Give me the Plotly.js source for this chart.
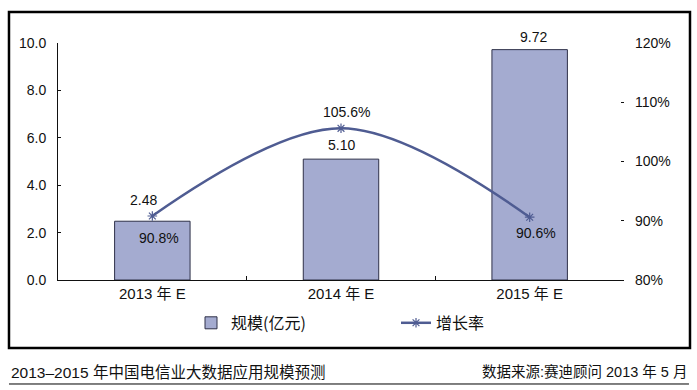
<!DOCTYPE html>
<html><head><meta charset="utf-8">
<script src="https://cdn.plot.ly/plotly-3.0.1.min.js"></script>
<style>html,body{margin:0;padding:0;background:#fff;}#c{width:697px;height:390px;}</style>
</head><body><div id="c"></div>
<script>
const categories = ["2013 年 E", "2014 年 E", "2015 年 E"];
const scale = [2.48, 5.10, 9.72];
const growth = [0.908, 1.056, 0.906];
const scaleLabels = ["2.48", "5.10", "9.72"];
const growthLabels = ["90.8%", "105.6%", "90.6%"];
const leftTicks = [0, 2, 4, 6, 8, 10];
const rightTicks = [0.8, 0.9, 1.0, 1.1, 1.2];

const FONT = "Liberation Sans, Arial, Noto Sans CJK SC, sans-serif";
const CJK = "Noto Sans CJK SC, Liberation Sans, sans-serif";

// label offsets (style only)
const barShiftY = [21, 14, 13], barShiftX = [-9, 0, 4];
const lineShiftY = [-22, 16, -16], lineShiftX = [7, 5, 6];

const traces = [
  {type: 'bar', x: categories, y: scale, name: '规模(亿元)',
   marker: {color: '#a4abd0', line: {color: '#2e3048', width: 1}},
   width: 0.4, hoverinfo: 'skip'},
  {type: 'scatter', mode: 'lines+markers', x: categories, y: growth, yaxis: 'y2', name: '增长率',
   line: {color: '#4f5c92', width: 2.5, shape: 'spline'},
   marker: {symbol: 'asterisk-open', size: 8, color: '#4f5c92', line: {color: '#4f5c92', width: 1.2}},
   hoverinfo: 'skip'}
];

const annotations = [];
categories.forEach((c, i) => {
  annotations.push({x: c, y: scale[i], xref: 'x', yref: 'y', text: scaleLabels[i], showarrow: false,
    yshift: barShiftY[i], xshift: barShiftX[i], font: {family: FONT, size: 14, color: '#111'}});
  annotations.push({x: c, y: growth[i], xref: 'x', yref: 'y2', text: growthLabels[i], showarrow: false,
    yshift: lineShiftY[i], xshift: lineShiftX[i], font: {family: FONT, size: 14, color: '#111'}});
});
annotations.push({xref: 'paper', yref: 'paper', x: -0.0866, y: -0.388, xanchor: 'left', yanchor: 'middle',
  text: '2013–2015 年中国电信业大数据应用规模预测', showarrow: false, font: {family: FONT, size: 15.5, color: '#111'}});
annotations.push({xref: 'paper', yref: 'paper', x: 1.1148, y: -0.388, xanchor: 'right', yanchor: 'middle',
  text: '数据来源:赛迪顾问 2013 年 5 月', showarrow: false, font: {family: FONT, size: 14.5, color: '#111'}});

const layout = {
  width: 697, height: 390,
  margin: {l: 58, r: 73, t: 43, b: 110},
  paper_bgcolor: '#fff', plot_bgcolor: '#fff',
  showlegend: true,
  font: {family: FONT, size: 14, color: '#111'},
  xaxis: {type: 'category', showline: true, linecolor: '#111', linewidth: 1,
    ticks: 'inside', tickson: 'boundaries', ticklen: 4, tickcolor: '#111',
    tickfont: {family: FONT, size: 15, color: '#111'}, showgrid: false, zeroline: false,
    fixedrange: true},
  yaxis: {range: [0, 10], tickvals: leftTicks, tickformat: '.1f', showline: true, linecolor: '#111', linewidth: 1,
    ticks: 'inside', ticklen: 3, tickcolor: '#111', showgrid: false, zeroline: false,
    tickfont: {family: FONT, size: 14, color: '#111'}, ticklabelstandoff: 8},
  yaxis2: {range: [0.8, 1.2], tickvals: rightTicks, tickformat: '.0%', overlaying: 'y', side: 'right',
    showline: false, ticks: 'inside', ticklen: 3, tickcolor: '#111', showgrid: false, zeroline: false,
    tickfont: {family: FONT, size: 14, color: '#111'}, ticklabelstandoff: 10},
  legend: {orientation: 'h', x: 0.235, y: -0.181, xanchor: 'left', yanchor: 'middle',
    font: {family: CJK, size: 16, color: '#111'}, entrywidth: 160, bgcolor: 'rgba(0,0,0,0)'},
  annotations: annotations,
  shapes: [
    {type: 'rect', xref: 'paper', yref: 'paper', x0: -0.0866, x1: 1.1166, y0: -0.2869, y1: 1.1308,
     line: {color: '#000', width: 2.5}},
    {type: 'line', xref: 'paper', yref: 'paper', x0: -0.0866, x1: 1.1148, y0: -0.4388, y1: -0.4388,
     line: {color: '#000', width: 1}}
  ]
};
Plotly.newPlot('c', traces, layout, {displayModeBar: false, staticPlot: true});
</script></body></html>
